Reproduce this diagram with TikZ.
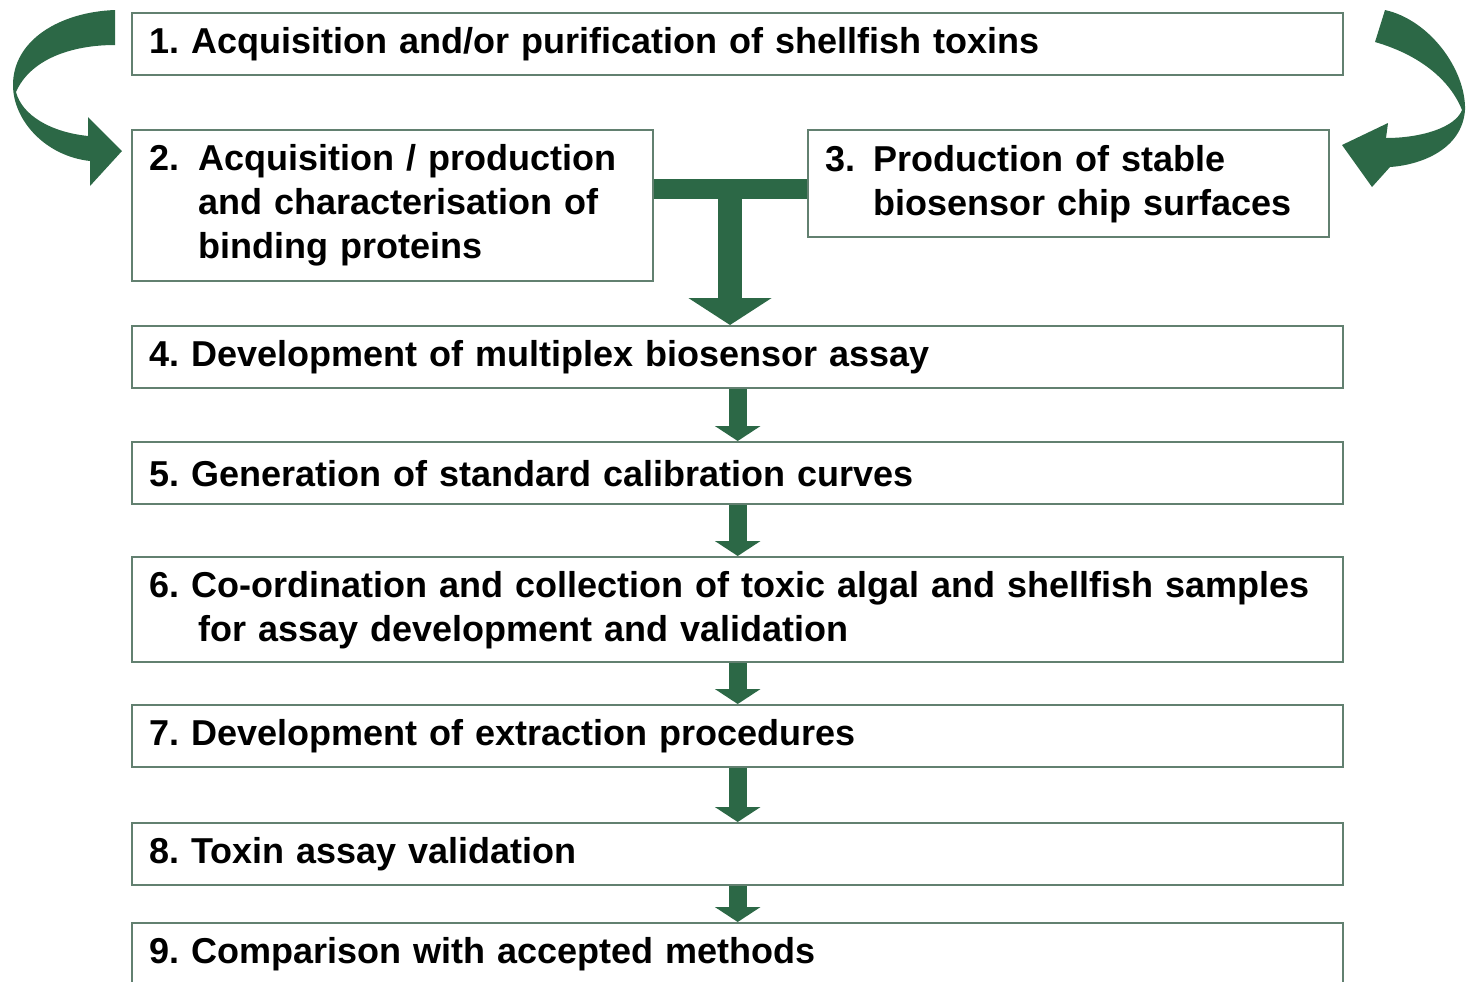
\documentclass[tikz,border=0pt]{standalone}
\usepackage{fontspec}
\setmainfont{Liberation Sans}
\usepackage{xcolor}
\usepackage{tikz}
\usetikzlibrary{arrows.meta}
\definecolor{boxline}{RGB}{98,128,112}
\definecolor{flowgreen}{RGB}{44,104,70}

\begin{document}
\begin{tikzpicture}[x=0.5pt,y=-0.5pt,
    stagebox/.style={draw=boxline,line width=1.2pt,anchor=north west,inner xsep=8.5pt,inner ysep=0pt,
      minimum width=605.5pt,minimum height=31pt,text width=588.5pt,align=left,
      font=\fontsize{18}{22}\selectfont\bfseries\frenchspacing},
    smallarrow/.style={flowgreen,line width=9pt,-{Triangle[width=22.5pt,length=7.5pt]}},
    bigarrow/.style={flowgreen,line width=12pt,-{Triangle[width=41pt,length=13.5pt]}},
    teebar/.style={flowgreen,line width=10pt}]
        \useasboundingbox (0,0) rectangle (1466,981);
        \node[stagebox] (stage1) at (131,12) {1. Acquisition and/or purification of shellfish toxins};
        \node[stagebox,minimum width=260.5pt,text width=243.5pt,minimum height=75.5pt] (stage2) at (131,129)
          {\makebox[24.5pt][l]{2.}Acquisition / production\\\hspace*{24.5pt}and characterisation of\\\hspace*{24.5pt}binding proteins};
        \node[stagebox,minimum width=260.5pt,text width=243.5pt,minimum height=53.5pt] (stage3) at (807,129)
          {\makebox[24pt][l]{3.}Production of stable\\\hspace*{24pt}biosensor chip surfaces};
        \node[stagebox] (stage4) at (131,325) {4. Development of multiplex biosensor assay};
        \node[stagebox] (stage5) at (131,441) {5. Generation of standard calibration curves};
        \node[stagebox,minimum height=52.5pt] (stage6) at (131,556)
          {6. Co-ordination and collection of toxic algal and shellfish samples\\\hspace*{24.5pt}for assay development and validation};
        \node[stagebox] (stage7) at (131,704) {7. Development of extraction procedures};
        \node[stagebox] (stage8) at (131,822) {8. Toxin assay validation};
        \node[stagebox] (stage9) at (131,922) {9. Comparison with accepted methods};
        \coordinate (tee) at (730,189);
        \draw[teebar] (stage2.east |- tee) -- (stage3.west |- tee);
        \draw[bigarrow] (tee) -- (tee |- stage4.north);
        \foreach \a/\b in {4/5,5/6,6/7,7/8,8/9}
          \draw[smallarrow] (stage\a.south) -- (stage\b.north);
        \fill[flowgreen] (115,10) .. controls (60,12) and (13,40) .. (13,85)
          .. controls (13,120) and (45,156) .. (90,161) -- (90,186) -- (122,151) -- (88,117) -- (88,136)
          .. controls (50,132) and (22,115) .. (16,92)
          .. controls (30,60) and (70,45) .. (115,45) -- cycle;
        \fill[flowgreen] (1385,10) .. controls (1430,20) and (1466,70) .. (1465,110)
          .. controls (1462,150) and (1420,165) .. (1390,167) -- (1372,187) -- (1342,145) -- (1388,123) -- (1386,138)
          .. controls (1420,138) and (1455,128) .. (1462,110)
          .. controls (1450,80) and (1420,55) .. (1375,42) -- cycle;
\end{tikzpicture}
\end{document}
